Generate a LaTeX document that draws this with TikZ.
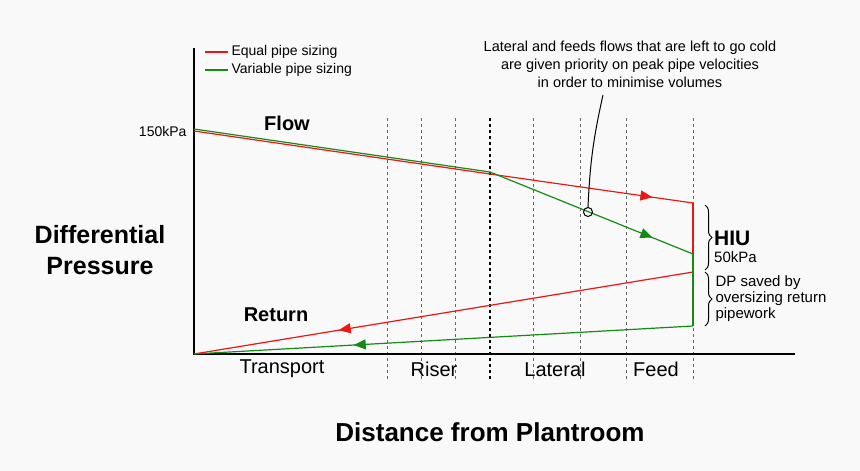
\documentclass[tikz,border=0pt]{standalone}
\usepackage{fontspec}
\setmainfont{Liberation Sans}
\usetikzlibrary{arrows.meta,decorations.pathreplacing,decorations.markings}
\definecolor{rd}{RGB}{240,20,20}
\definecolor{gn}{RGB}{20,140,20}
\tikzset{
 div/.style={gray!80!black,dashed,line width=0.8pt},
 pipe/.style={line width=1.2pt},
 midarrow/.style={postaction={decorate},decoration={markings,mark=at position #1 with {\arrow{Triangle[length=12pt,width=10pt]}}}},
 brc/.style={decorate,decoration={brace,amplitude=7pt},line width=1pt},
 lbl/.style={font=\fontsize{20}{22}\selectfont},
}
\begin{document}
\begin{tikzpicture}[x=1pt,y=-1pt]
\fill[white!95!gray] (0,0) rectangle (860,471);
\useasboundingbox (0,0) rectangle (860,471);
\foreach \x in {387,421,455,533,580,626,693} \draw[div] (\x,118) -- (\x,380);
\draw[dashed,line width=1.5pt] (490,118) -- (490,380);
\draw[line width=1.3pt] (194,48) -- (194,354) -- (795,354);
\coordinate (o) at (194,354);
\coordinate (rs) at (194,131); \coordinate (rm) at (490,174); \coordinate (re) at (693,203);
\coordinate (gs) at (194,129); \coordinate (gm) at (490,172); \coordinate (ge) at (693,254);
\coordinate (rr) at (693,272); \coordinate (gr) at (693,326);
\draw[pipe,rd] (rs) -- (rm);
\draw[pipe,rd,midarrow=0.8] (rm) -- (re);
\draw[pipe,rd] (re) -- (rr);
\draw[pipe,rd,midarrow=0.71] (rr) -- (o);
\draw[pipe,gn] (gs) -- (gm);
\draw[pipe,gn,midarrow=0.8] (gm) -- (ge);
\draw[pipe,gn] (ge) -- (gr);
\draw[pipe,gn,midarrow=0.68] (gr) -- (o);
\node[align=center,font=\fontsize{14.5}{18}\selectfont] (ann) at (630,64) {Lateral and feeds flows that are left to go cold\\are given priority on peak pipe velocities\\in order to minimise volumes};
\node[circle,draw,line width=1pt,inner sep=0pt,minimum size=9pt] (c) at (588,212) {};
\draw[line width=1pt] (c.north) to[bend left=5] (603,95);
\draw[brc] (705,205) -- (705,270);
\draw[brc] (705,272) -- (705,326);
\node[anchor=west,inner sep=1pt,font=\fontsize{21}{22}\selectfont\bfseries] (hiu) at (713,238) {HIU};
\node[anchor=west,inner sep=1pt,font=\fontsize{15}{16}\selectfont] (kpa) at (713,257) {50kPa};
\node[anchor=west,align=left,font=\fontsize{15}{16}\selectfont] (dp) at (712,299) {DP saved by\\oversizing return\\pipework};
\draw[pipe,rd] (205,52) -- (228,52);
\node[anchor=west,font=\fontsize{14}{16}\selectfont] (l1) at (228,52) {Equal pipe sizing};
\draw[pipe,gn] (205,70) -- (228,70);
\node[anchor=west,font=\fontsize{14}{16}\selectfont] (l2) at (228,70) {Variable pipe sizing};
\node[anchor=east,font=\fontsize{14}{16}\selectfont] (p150) at (190,131) {150kPa};
\node[font=\fontsize{20}{22}\selectfont\bfseries] (flow) at (287,123) {Flow};
\node[font=\fontsize{20}{22}\selectfont\bfseries] (ret) at (276,315) {Return};
\node[align=center,font=\fontsize{25}{31}\selectfont\bfseries] (dpax) at (100,250) {Differential\\Pressure};
\node[font=\fontsize{26}{30}\selectfont\bfseries] (dist) at (490,432) {Distance from Plantroom};
\node[lbl] (t1) at (282,369) {Transport};
\node[lbl] (t2) at (434,369) {Riser};
\node[lbl] (t3) at (555,369) {Lateral};
\node[lbl] (t4) at (656,369) {Feed};
\end{tikzpicture}
\end{document}
